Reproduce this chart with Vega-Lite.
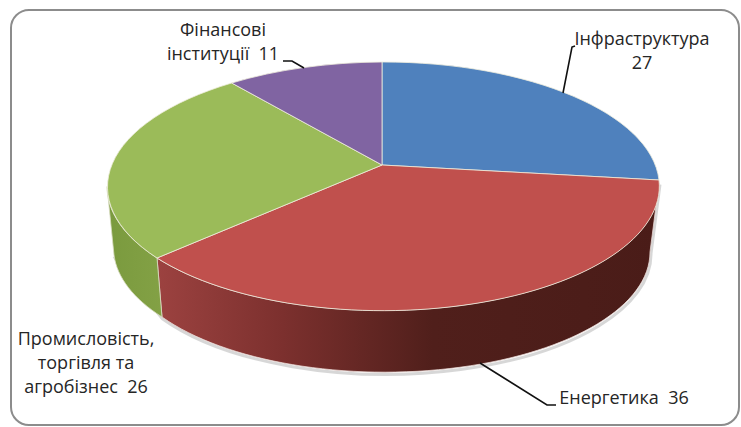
{
  "$schema": "https://vega.github.io/schema/vega-lite/v6.json",
  "autosize": {"type": "fit", "contains": "padding"},
  "width": 741,
  "height": 427,
  "padding": {"left": 11, "top": 10, "right": 2, "bottom": 2},
  "background": "white",
  "view": {"stroke": "#8c8c8c", "strokeWidth": 2, "cornerRadius": 18},
  "data": {"values": [
    {"sector": "Інфраструктура", "value": 27, "label": "Інфраструктура\n27"},
    {"sector": "Енергетика", "value": 36, "label": "Енергетика\u00a0\u00a036"},
    {"sector": "Промисловість, торгівля та агробізнес", "value": 26, "label": "Промисловість,\nторгівля та\nагробізнес\u00a0\u00a026"},
    {"sector": "Фінансові інституції", "value": 11, "label": "Фінансові\nінституції\u00a0\u00a011"}
  ]},
  "resolve": {"scale": {"shape": "independent", "color": "independent"}},
  "layer": [
    {
      "transform": [{"filter": "datum.value === 36"}],
      "mark": {"type": "point", "filled": false, "opacity": 0.55, "strokeWidth": 3, "color": "#b8b8b8"},
      "encoding": {
        "shape": {"value": "M-261,39 L-213,101 A265,120 0 0 0 276,36 L285,-33"},
        "size": {"value": 4}
      }
    },
    {
      "transform": [{"filter": "datum.sector === 'Енергетика'"}],
      "mark": {"type": "point", "filled": true, "opacity": 1, "stroke": "#e8d8d4", "strokeWidth": 0.8,
        "fill": {"gradient": "linear", "x1": 0, "y1": 0, "x2": 1, "y2": 0, "stops": [
          {"offset": 0, "color": "#9c4240"},
          {"offset": 0.25, "color": "#7c302e"},
          {"offset": 0.55, "color": "#501f1b"},
          {"offset": 1, "color": "#4a1c18"}
        ]}},
      "encoding": {
        "shape": {"value": "M284,-34.5 A276.5,124.5 0 0 1 -218,40.5 L-213,99.5 A265,120 0 0 0 275,34.5 Z"},
        "size": {"value": 4}
      }
    },
    {
      "transform": [{"filter": "datum.value === 26"}],
      "mark": {"type": "point", "filled": true, "opacity": 1, "stroke": "#d8dcc0", "strokeWidth": 0.8,
        "fill": {"gradient": "linear", "x1": 0, "y1": 0, "x2": 1, "y2": 0, "stops": [
          {"offset": 0, "color": "#7a9a3e"},
          {"offset": 1, "color": "#83a145"}
        ]}},
      "encoding": {
        "shape": {"value": "M-218,40.5 A276.5,124.5 0 0 1 -268,-31 L-261,37.5 A268,120 0 0 0 -213,99.5 Z"},
        "size": {"value": 4}
      }
    },
    {
      "mark": {"type": "point", "filled": true, "opacity": 1, "stroke": "#efeedd", "strokeWidth": 0.8},
      "encoding": {
        "shape": {
          "field": "sector",
          "type": "nominal",
          "legend": null,
          "scale": {
            "domain": ["Інфраструктура", "Енергетика", "Промисловість, торгівля та агробізнес", "Фінансові інституції"],
            "range": [
              "M7,-52.5 L7,-155.5 A276.5,124.5 0 0 1 284,-37.5 Z",
              "M7,-52.5 L284,-37.5 A276.5,124.5 0 0 1 -218,40.5 Z",
              "M7,-52.5 L-218,40.5 A276.5,124.5 0 0 1 -143.3,-134.5 Z",
              "M7,-52.5 L-143.3,-134.5 A276.5,124.5 0 0 1 7,-155.5 Z"
            ]
          }
        },
        "color": {
          "field": "sector",
          "type": "nominal",
          "legend": null,
          "scale": {
            "domain": ["Інфраструктура", "Енергетика", "Промисловість, торгівля та агробізнес", "Фінансові інституції"],
            "range": ["#4f81bd", "#c0504d", "#9bbb59", "#8064a2"]
          }
        },
        "size": {"value": 4}
      }
    },
    {
      "transform": [{"filter": "datum.value !== 26"}],
      "mark": {"type": "point", "filled": false, "opacity": 1, "strokeWidth": 1.6, "color": "#111111"},
      "encoding": {
        "shape": {
          "field": "sector",
          "type": "nominal",
          "legend": null,
          "scale": {
            "domain": ["Інфраструктура", "Енергетика", "Фінансові інституції"],
            "range": [
              "M200,-171.5 L197,-170.5 L188,-124.5",
              "M105,145.5 L172,187.5 L181,187.5",
              "M-92,-156.5 L-83,-156.5 L-71,-149.5"
            ]
          }
        },
        "size": {"value": 4}
      }
    },
    {
      "transform": [{"filter": "datum.value === 27"}],
      "mark": {"type": "text", "font": "Open Sans", "fontSize": 18, "lineHeight": 24, "lineBreak": "\n", "align": "center", "baseline": "middle", "color": "#262626", "dx": 267, "dy": -177.5},
      "encoding": {"text": {"field": "label"}}
    },
    {
      "transform": [{"filter": "datum.value === 36"}],
      "mark": {"type": "text", "font": "Open Sans", "fontSize": 18, "lineHeight": 24, "lineBreak": "\n", "align": "center", "baseline": "middle", "color": "#262626", "dx": 249, "dy": 181.5},
      "encoding": {"text": {"field": "label"}}
    },
    {
      "transform": [{"filter": "datum.value === 26"}],
      "mark": {"type": "text", "font": "Open Sans", "fontSize": 18, "lineHeight": 24, "lineBreak": "\n", "align": "center", "baseline": "middle", "color": "#262626", "dx": -289, "dy": 122.5},
      "encoding": {"text": {"field": "label"}}
    },
    {
      "transform": [{"filter": "datum.value === 11"}],
      "mark": {"type": "text", "font": "Open Sans", "fontSize": 18, "lineHeight": 24, "lineBreak": "\n", "align": "center", "baseline": "middle", "color": "#262626", "dx": -152, "dy": -186.5},
      "encoding": {"text": {"field": "label"}}
    }
  ]
}
